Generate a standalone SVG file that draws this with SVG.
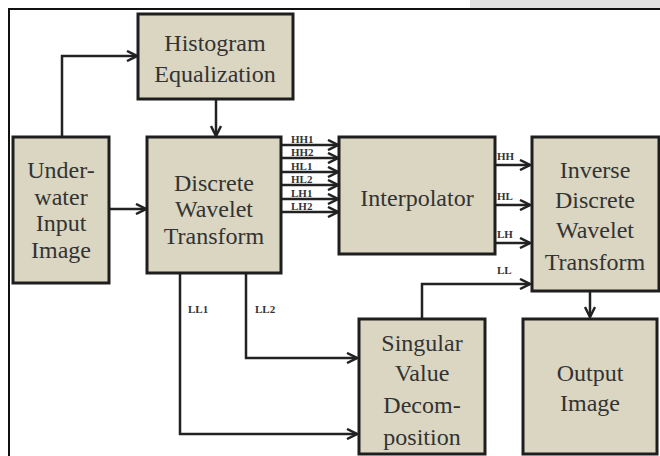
<svg xmlns="http://www.w3.org/2000/svg" width="660" height="456" viewBox="0 0 660 456">
<defs>
<marker id="arr" viewBox="0 0 10 10" refX="9" refY="5" markerWidth="5" markerHeight="5" orient="auto" markerUnits="strokeWidth">
<path d="M1,1 L9,5 L1,9" fill="none" stroke="#222" stroke-width="2"/>
</marker>
<style>
.box{fill:#dad6c2;stroke:#1e1e1e;stroke-width:3}
.t{font-family:"Liberation Serif","Times New Roman",serif;font-size:24px;fill:#333;text-anchor:middle}
.c{fill:none;stroke:#222;stroke-width:2.5}
.cm{fill:none;stroke:#222;stroke-width:2.5;marker-end:url(#arr)}
.l{font-family:"Liberation Serif","Times New Roman",serif;font-size:11px;font-weight:bold;fill:#333}
</style>
</defs>
<rect x="0" y="0" width="660" height="456" fill="#fff"/>
<rect x="470" y="0" width="190" height="8" fill="#e2e2e2"/>
<path d="M9,456 V9 H660" fill="none" stroke="#111" stroke-width="2"/>

<g id="connectors">
<path class="cm" d="M62,137 V56 H137"/>
<path class="cm" d="M216,99 V136"/>
<path class="cm" d="M110,209 H146"/>
<path class="cm" d="M281,145 H338"/>
<path class="cm" d="M281,158 H338"/>
<path class="cm" d="M281,172 H338"/>
<path class="cm" d="M281,185 H338"/>
<path class="cm" d="M281,199 H338"/>
<path class="cm" d="M281,212 H338"/>
<path class="cm" d="M495,165 H530"/>
<path class="cm" d="M495,205 H530"/>
<path class="cm" d="M495,243 H530"/>
<path class="cm" d="M422,319 V284 H530"/>
<path class="cm" d="M590,291 V317"/>
<path class="cm" d="M180,273 V434 H357"/>
<path class="cm" d="M246,273 V358 H357"/>
<text class="l" x="291" y="143">HH1</text>
<text class="l" x="291" y="156">HH2</text>
<text class="l" x="291" y="170">HL1</text>
<text class="l" x="291" y="183">HL2</text>
<text class="l" x="291" y="197">LH1</text>
<text class="l" x="291" y="210">LH2</text>
<text class="l" x="497" y="160">HH</text>
<text class="l" x="497" y="200">HL</text>
<text class="l" x="497" y="238">LH</text>
<text class="l" x="497" y="274">LL</text>
<text class="l" x="188" y="313">LL1</text>
<text class="l" x="255" y="313">LL2</text>
</g>

<g id="histogram">
<rect class="box" x="138" y="14" width="155" height="85"/>
<text class="t" x="215" y="51">Histogram</text>
<text class="t" x="215" y="82">Equalization</text>
</g>
<g id="input">
<rect class="box" x="13" y="137" width="96" height="146"/>
<text class="t" x="61" y="178">Under-</text>
<text class="t" x="61" y="205">water</text>
<text class="t" x="61" y="231">Input</text>
<text class="t" x="61" y="258">Image</text>
</g>
<g id="dwt">
<rect class="box" x="147" y="137" width="134" height="136"/>
<text class="t" x="214" y="191">Discrete</text>
<text class="t" x="214" y="217">Wavelet</text>
<text class="t" x="214" y="244">Transform</text>
</g>
<g id="interpolator">
<rect class="box" x="339" y="137" width="156" height="117"/>
<text class="t" x="417" y="206">Interpolator</text>
</g>
<g id="idwt">
<rect class="box" x="532" y="137" width="127" height="154"/>
<text class="t" x="595" y="178">Inverse</text>
<text class="t" x="595" y="208">Discrete</text>
<text class="t" x="595" y="238">Wavelet</text>
<text class="t" x="595" y="270">Transform</text>
</g>
<g id="svd">
<rect class="box" x="359" y="319" width="126" height="135"/>
<text class="t" x="422" y="351">Singular</text>
<text class="t" x="422" y="381">Value</text>
<text class="t" x="422" y="413">Decom-</text>
<text class="t" x="422" y="445">position</text>
</g>
<g id="output">
<rect class="box" x="523" y="319" width="134" height="135"/>
<text class="t" x="590" y="381">Output</text>
<text class="t" x="590" y="411">Image</text>
</g>
</svg>
